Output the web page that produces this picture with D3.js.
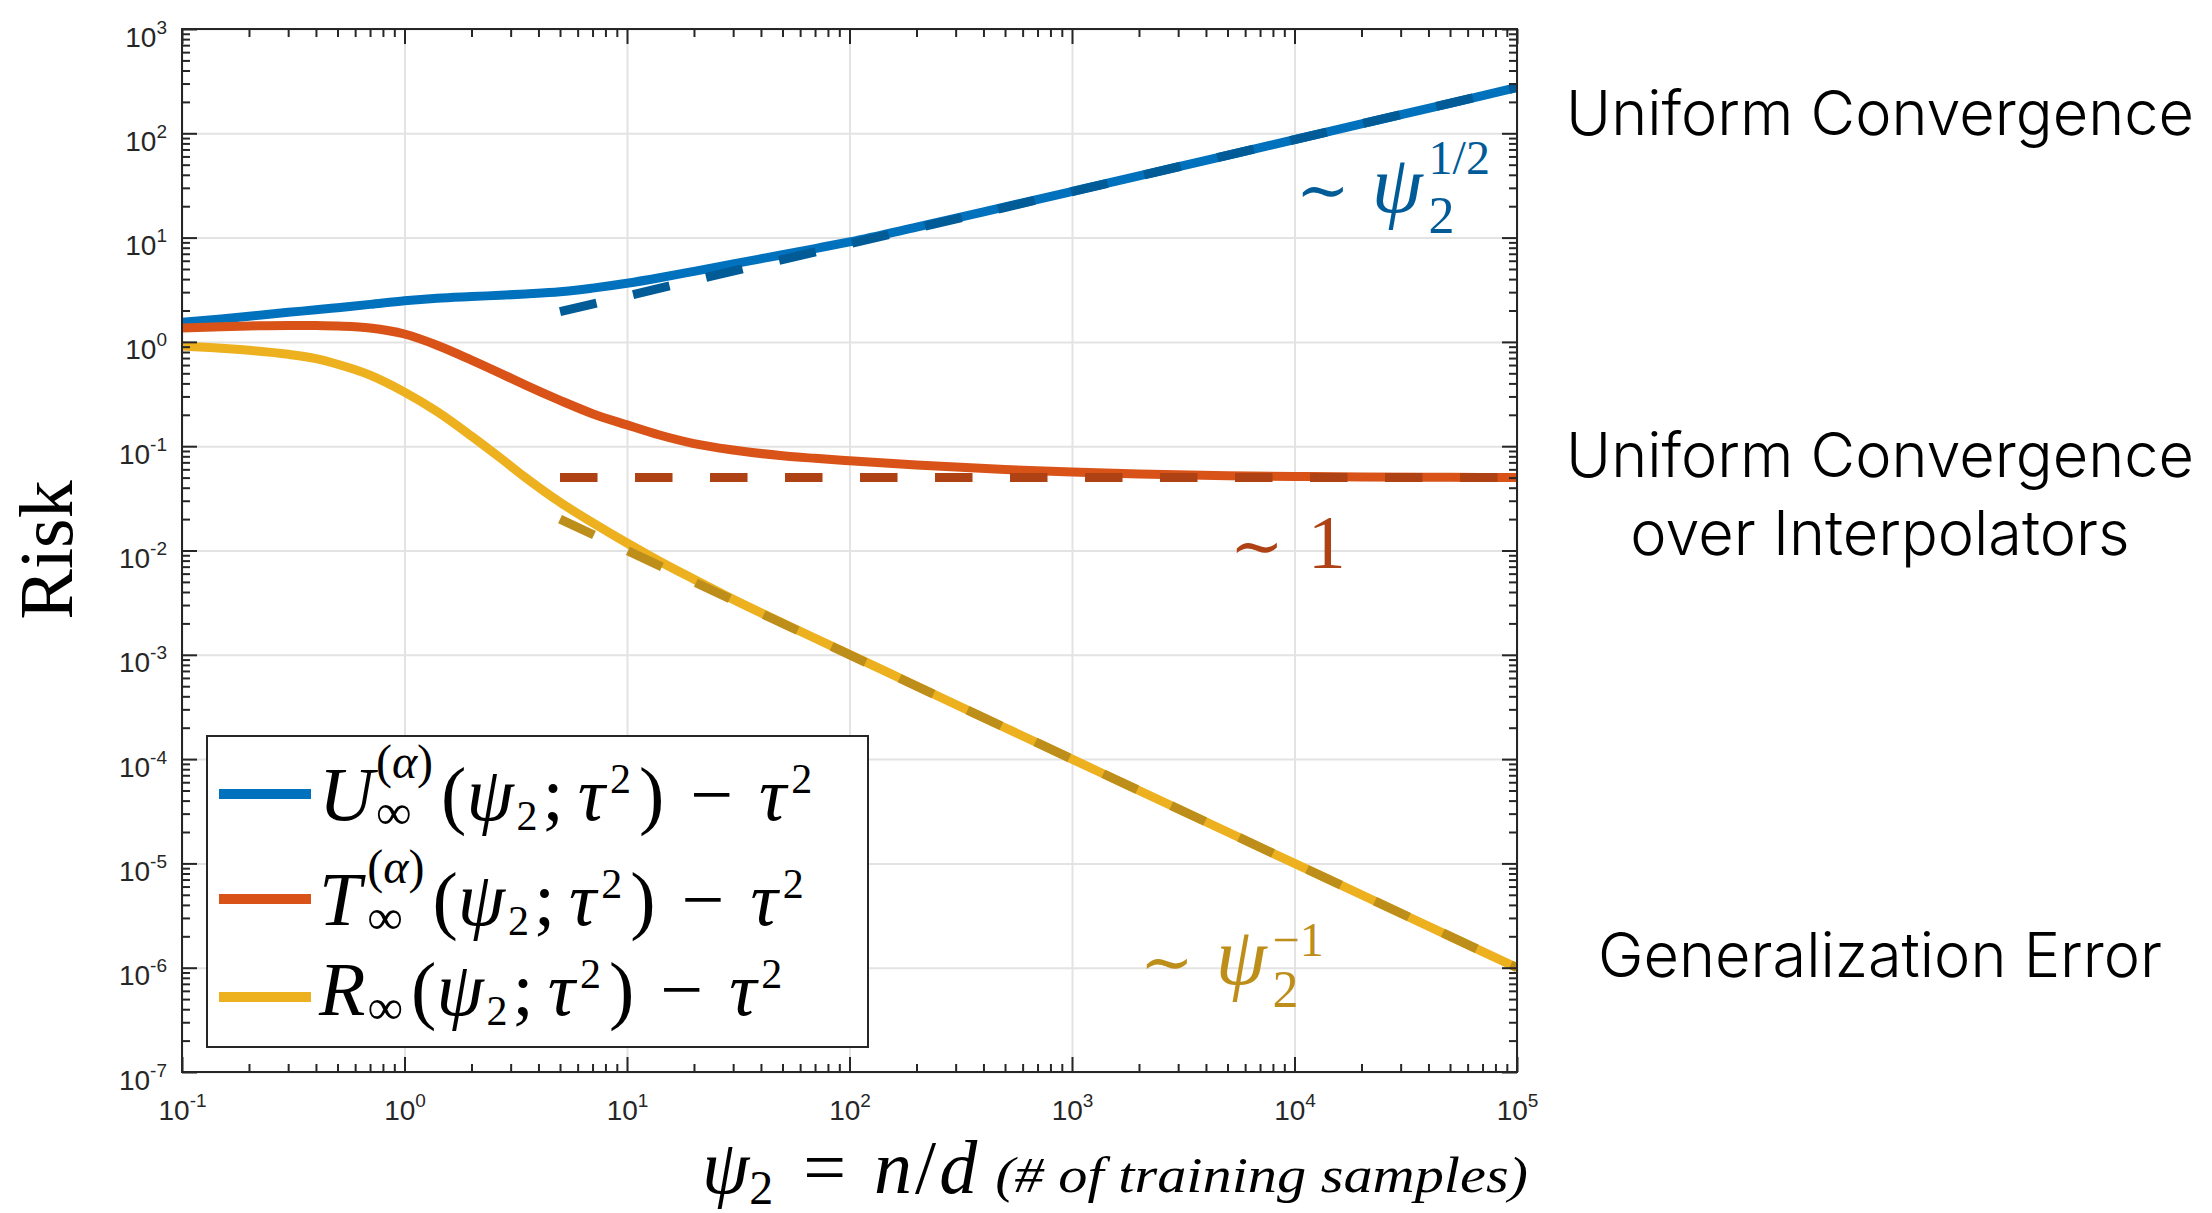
<!DOCTYPE html>
<html><head><meta charset="utf-8">
<script src="https://cdn.jsdelivr.net/npm/d3@7"></script>
<style>
html,body{margin:0;padding:0;background:#fff;}
svg{display:block;}
</style></head><body>
<svg id="chart" width="2212" height="1213"></svg>
<script>
// ---------- data ----------
const psi = [0.1, 0.15, 0.2, 0.3, 0.4, 0.5, 0.7, 1, 1.4, 2, 2.7, 3.5, 5, 7, 10, 14, 20, 30, 50, 70, 100, 200, 500, 1000, 2000, 5000, 10000, 20000, 50000, 100000];
const uniformConv = [1.54, 1.66, 1.76, 1.92, 2.03, 2.13, 2.29, 2.48, 2.62, 2.72, 2.80, 2.88, 3.02, 3.28, 3.65, 4.12, 4.75, 5.6, 6.85, 7.85, 9.1, 12.6, 19.7, 27.7, 39.0, 61.5, 87, 123, 194, 275];
const interpConv = [1.36, 1.40, 1.42, 1.44, 1.44, 1.42, 1.36, 1.19, 0.93, 0.67, 0.50, 0.385, 0.275, 0.205, 0.16, 0.128, 0.106, 0.092, 0.081, 0.0765, 0.0725, 0.066, 0.0598, 0.0565, 0.0542, 0.0522, 0.0513, 0.0507, 0.0503, 0.0501];
const genError = [0.915, 0.87, 0.83, 0.76, 0.69, 0.61, 0.48, 0.33, 0.215, 0.125, 0.077, 0.05, 0.029, 0.0185, 0.0118, 0.0079, 0.0053, 0.0034, 0.00202, 0.00144, 0.00101, 0.000502, 0.0002, 0.0001, 0.00005, 0.00002, 0.00001, 0.000005, 0.000002, 0.000001];
const asymPsi = [5, 100000];
const uniformAsym = [1.95, 275];
const interpAsym = [0.05, 0.05];
const genAsym = [0.02, 0.000001];
const xTickExps = [-1, 0, 1, 2, 3, 4, 5];
const yTickExps = [-7, -6, -5, -4, -3, -2, -1, 0, 1, 2, 3];
const sideLabels = ["Uniform Convergence", "Uniform Convergence", "over Interpolators", "Generalization Error"];

// ---------- layout ----------
const L = 182, R = 1517, T = 29, B = 1072;
const svg = d3.select("#chart");
const x = d3.scaleLog().domain([0.1, 1e5]).range([L, R]);
const y = d3.scaleLog().domain([1e-7, 1e3]).range([B, T]);
const AX = "#262626", GRID = "#e3e3e3";
const SERIF = "'Liberation Serif','Times New Roman',serif";
const SANS = "'Liberation Sans',Arial,sans-serif";
const col = {u: "#0072BD", t: "#D95319", r: "#EDB120"};
const dcol = {u: "#005B97", t: "#AE4214", r: "#BE8E1A"};

const xMajor = xTickExps.map(e => Math.pow(10, e));
const yMajor = yTickExps.map(e => Math.pow(10, e));
const xMinor = [], yMinor = [];
for (let e = -1; e < 5; e++) for (let k = 2; k <= 9; k++) xMinor.push(k * Math.pow(10, e));
for (let e = -7; e < 3; e++) for (let k = 2; k <= 9; k++) yMinor.push(k * Math.pow(10, e));

// grid
svg.append("g").attr("transform", `translate(0,${B})`)
  .call(d3.axisBottom(x).tickValues(xMajor).tickSize(-(B - T)).tickFormat(""))
  .call(g => { g.select(".domain").remove(); g.selectAll("line").attr("stroke", GRID).attr("stroke-width", 2); });
svg.append("g").attr("transform", `translate(${L},0)`)
  .call(d3.axisLeft(y).tickValues(yMajor).tickSize(-(R - L)).tickFormat(""))
  .call(g => { g.select(".domain").remove(); g.selectAll("line").attr("stroke", GRID).attr("stroke-width", 2); });

// clip
svg.append("clipPath").attr("id", "clip").append("rect").attr("x", L).attr("y", T).attr("width", R - L).attr("height", B - T);
const plot = svg.append("g").attr("clip-path", "url(#clip)");

const line = d3.line().x(d => x(d[0])).y(d => y(d[1])).curve(d3.curveMonotoneX);
const series = [
  {vals: uniformConv, c: col.u},
  {vals: interpConv, c: col.t},
  {vals: genError, c: col.r}
];
series.forEach(s => {
  plot.append("path").attr("d", line(psi.map((p, i) => [p, s.vals[i]])))
    .attr("fill", "none").attr("stroke", s.c).attr("stroke-width", 9);
});
const asym = [
  {vals: uniformAsym, c: dcol.u},
  {vals: interpAsym, c: dcol.t},
  {vals: genAsym, c: dcol.r}
];
const sline = d3.line().x(d => x(d[0])).y(d => y(d[1]));
asym.forEach(s => {
  plot.append("path").attr("d", sline(asymPsi.map((p, i) => [p, s.vals[i]])))
    .attr("fill", "none").attr("stroke", s.c).attr("stroke-width", 9)
    .attr("stroke-dasharray", "37.5,37.5").attr("stroke-linecap", "butt");
});

// axes ticks
function styleAxis(g) {
  g.select(".domain").remove();
  g.selectAll("line").attr("stroke", AX).attr("stroke-width", 2);
}
function expLabels(g, mode) {
  g.selectAll(".tick text").each(function (d) {
    const t = d3.select(this);
    const e = Math.round(Math.log10(d));
    t.text(null).attr("dy", null).attr("fill", AX)
      .attr("font-family", SANS).attr("font-size", 28);
    if (mode === "x") t.attr("y", 48).attr("text-anchor", "middle");
    else t.attr("x", -15).attr("y", 17).attr("text-anchor", "end");
    t.append("tspan").text("10");
    t.append("tspan").attr("dy", -13).attr("font-size", 19).text(String(e));
  });
}
svg.append("g").attr("transform", `translate(0,${B})`)
  .call(d3.axisBottom(x).tickValues(xMajor).tickSize(-15).tickFormat(d => d))
  .call(styleAxis).call(g => expLabels(g, "x"));
svg.append("g").attr("transform", `translate(0,${B})`)
  .call(d3.axisBottom(x).tickValues(xMinor).tickSize(-8).tickFormat("")).call(styleAxis);
svg.append("g").attr("transform", `translate(0,${T})`)
  .call(d3.axisTop(x).tickValues(xMajor).tickSize(-15).tickFormat("")).call(styleAxis);
svg.append("g").attr("transform", `translate(0,${T})`)
  .call(d3.axisTop(x).tickValues(xMinor).tickSize(-8).tickFormat("")).call(styleAxis);
svg.append("g").attr("transform", `translate(${L},0)`)
  .call(d3.axisLeft(y).tickValues(yMajor).tickSize(-15).tickFormat(d => d))
  .call(styleAxis).call(g => expLabels(g, "y"));
svg.append("g").attr("transform", `translate(${L},0)`)
  .call(d3.axisLeft(y).tickValues(yMinor).tickSize(-8).tickFormat("")).call(styleAxis);
svg.append("g").attr("transform", `translate(${R},0)`)
  .call(d3.axisRight(y).tickValues(yMajor).tickSize(-15).tickFormat("")).call(styleAxis);
svg.append("g").attr("transform", `translate(${R},0)`)
  .call(d3.axisRight(y).tickValues(yMinor).tickSize(-8).tickFormat("")).call(styleAxis);
svg.append("rect").attr("x", L).attr("y", T).attr("width", R - L).attr("height", B - T)
  .attr("fill", "none").attr("stroke", AX).attr("stroke-width", 2);

// ---------- math text helper ----------
function mathText(parent, x0, y0, segs, color) {
  const g = parent.append("g").attr("fill", color);
  let xc = x0, stackX = null, supEnd = 0;
  segs.forEach(s => {
    xc += (s.pre || 0);
    if (s.sup) stackX = xc;
    if (s.sub && stackX !== null) { xc = stackX; }
    const t = g.append("text").attr("x", xc).attr("y", y0 + (s.dy || 0))
      .attr("font-size", s.size).attr("font-family", s.fam || SERIF)
      .attr("font-style", s.it ? "italic" : "normal");
    const parts = s.parts || [{t: s.t, it: s.it}];
    parts.forEach(p => t.append("tspan").attr("font-style", p.it ? "italic" : "normal").text(p.t));
    const w = t.node().getComputedTextLength();
    xc += w;
    if (s.sup) { supEnd = xc; }
    if (s.sub && stackX !== null) { xc = Math.max(xc, supEnd); stackX = null; }
    xc += (s.post || 0);
  });
  return xc;
}
const TILDE = "'DejaVu Serif',serif";

// ---------- legend ----------
const lg = svg.append("g");
lg.append("rect").attr("x", 207).attr("y", 736).attr("width", 661).attr("height", 311)
  .attr("fill", "#fff").attr("stroke", AX).attr("stroke-width", 2);
const rows = [794, 899, 997];
const M = 76, S = 42;
const tail = [
  {t: "(", size: M, pre: 8},
  {t: "ψ", size: M, it: true},
  {t: "2", size: S, dy: 10, pre: 3},
  {t: ";", size: M, pre: 5},
  {t: "τ", size: M, it: true, pre: 14},
  {t: "2", size: S, dy: -27, pre: 5},
  {t: ")", size: M, pre: 8},
  {t: "−", size: M, pre: 26},
  {t: "τ", size: M, it: true, pre: 26},
  {t: "2", size: S, dy: -27, pre: 5}
];
const alpha = {parts: [{t: "("}, {t: "α", it: true}, {t: ")"}], size: 48, dy: -42, sup: true, pre: 2};
const inf = {t: "∞", size: 50, dy: 9, sub: true};
const legendSegs = [
  [{t: "U", size: M, it: true}, alpha, inf].concat(tail),
  [{t: "T", size: M, it: true}, Object.assign({}, alpha, {pre: 6}), inf].concat(tail),
  [{t: "R", size: M, it: true}, {t: "∞", size: 50, dy: 9, pre: 2}].concat(tail)
];
const baseOff = [26, 26, 18];
[col.u, col.t, col.r].forEach((c, i) => {
  lg.append("line").attr("x1", 219).attr("x2", 311).attr("y1", rows[i]).attr("y2", rows[i])
    .attr("stroke", c).attr("stroke-width", 10);
  mathText(lg, 319, rows[i] + baseOff[i], legendSegs[i], "#000");
});

// ---------- annotations ----------
mathText(svg, 1296, 212, [
  {t: "∼", size: 64, fam: TILDE},
  {t: "ψ", size: 82, it: true, pre: 22},
  {t: "1/2", size: 48, dy: -38, sup: true, pre: 6},
  {t: "2", size: 52, dy: 21, sub: true}
], dcol.u);
mathText(svg, 1230, 568, [
  {t: "∼", size: 64, fam: TILDE},
  {t: "1", size: 76, pre: 24}
], dcol.t);
mathText(svg, 1140, 984, [
  {t: "∼", size: 64, fam: TILDE},
  {t: "ψ", size: 82, it: true, pre: 22},
  {t: "−1", size: 48, dy: -28, sup: true, pre: 6},
  {t: "2", size: 52, dy: 23, sub: true}
], dcol.r);

// ---------- axis labels ----------
svg.append("text").attr("transform", "translate(72,550) rotate(-90)")
  .attr("text-anchor", "middle").attr("font-family", SERIF).attr("font-size", 76)
  .attr("fill", "#000").text("Risk");
const xe = mathText(svg, 702, 1193, [
  {t: "ψ", size: 76, it: true},
  {t: "2", size: 48, dy: 11, pre: 0},
  {t: "=", size: 76, pre: 30},
  {t: "n", size: 76, it: true, pre: 28},
  {t: "/", size: 76, pre: 3},
  {t: "d", size: 76, it: true, pre: 3}
], "#000");
svg.append("text").attr("x", xe + 18).attr("y", 1192).attr("font-family", SERIF)
  .attr("font-style", "italic").attr("font-size", 50).attr("fill", "#000")
  .attr("textLength", 1528 - xe - 18).attr("lengthAdjust", "spacingAndGlyphs")
  .text("(# of training samples)");

// ---------- side labels ----------
const sideY = [135, 477, 555, 977];
const SIDEF = "Inter,Roboto,'Liberation Sans',sans-serif";
const probe = svg.append("text").attr("font-family", SIDEF)
  .attr("font-weight", 300).attr("font-size", 60).text(sideLabels[0]);
const fs = 60 * 628 / probe.node().getComputedTextLength();
probe.remove();
sideLabels.forEach((s, i) => {
  svg.append("text").attr("x", 1880).attr("y", sideY[i]).attr("text-anchor", "middle")
    .attr("font-family", SIDEF).attr("font-weight", 300)
    .attr("font-size", fs).attr("fill", "#000").text(s);
});
</script>
</body></html>
